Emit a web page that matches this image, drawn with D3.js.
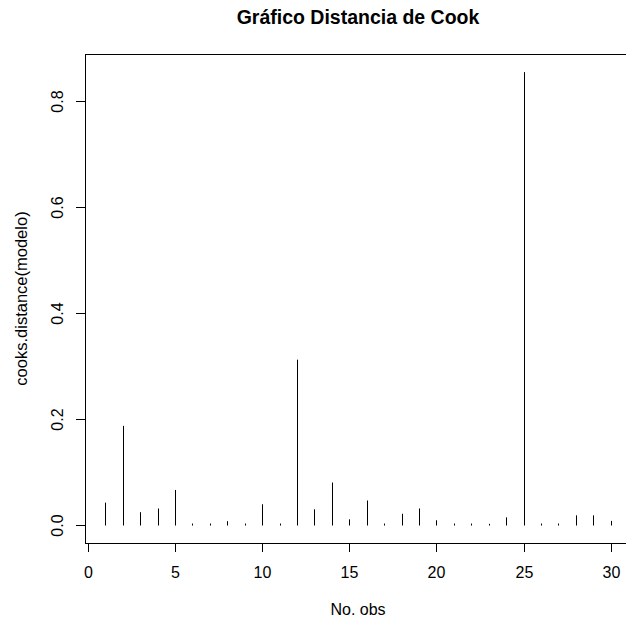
<!DOCTYPE html>
<html>
<head>
<meta charset="utf-8">
<script src="https://cdn.jsdelivr.net/npm/d3@7"></script>
<style>
  body { margin: 0; background: #fff; }
  text { font-family: "Liberation Sans", Arial, sans-serif; fill: #000; }
</style>
</head>
<body>
<div id="chart"></div>
<script>
// observation number and cook's distance
var obs = [1,2,3,4,5,6,7,8,9,10,11,12,13,14,15,16,17,18,19,20,21,22,23,24,25,26,27,28,29,30];
var cooks = [0.042,0.187,0.024,0.031,0.066,0.0025,0.0025,0.007,0.0025,0.039,0.0025,0.312,0.0295,0.080,0.0105,0.046,0.0025,0.021,0.031,0.0087,0.0025,0.0025,0.002,0.0143,0.855,0.0025,0.0025,0.018,0.018,0.0075];
var xTicks = [0,5,10,15,20,25,30];
var yTicks = [0,0.2,0.4,0.6,0.8];

// plot region (window.top is reserved, so use other names)
var width = 626,
    height = 622,
    plotLeft = 85,
    plotRight = 631,
    plotTop = 54,
    plotBottom = 543;

var svg = d3.select("#chart")
  .append("svg")
    .attr("width", width)
    .attr("height", height);

// R style 4% padding on the ranges
var xmin = d3.min(obs), xmax = d3.max(obs);
var xpad = (xmax - xmin) * 0.04;
var ymax = d3.max(cooks);
var ypad = ymax * 0.04;

var x = d3.scaleLinear()
  .domain([xmin - xpad, xmax + xpad])
  .range([plotLeft, plotRight]);

var y = d3.scaleLinear()
  .domain([0 - ypad, ymax + ypad])
  .range([plotBottom, plotTop]);

// plot box
svg.append("rect")
  .attr("x", plotLeft + 0.5)
  .attr("y", plotTop + 0.5)
  .attr("width", plotRight - plotLeft)
  .attr("height", plotBottom - plotTop)
  .attr("fill", "none")
  .attr("stroke", "#000")
  .attr("stroke-width", 1);

// vertical lines (type = "h")
svg.selectAll("line.h")
  .data(obs)
  .enter()
  .append("line")
  .attr("class", "h")
  .attr("x1", function(d){ return Math.round(x(d)) + 0.5; })
  .attr("x2", function(d){ return Math.round(x(d)) + 0.5; })
  .attr("y1", Math.round(y(0)) + 0.5)
  .attr("y2", function(d, i){ return y(cooks[i]); })
  .attr("stroke", "#000")
  .attr("stroke-width", 1);

// x axis
var xAxis = d3.axisBottom(x)
  .tickValues(xTicks)
  .tickSize(9);

var gx = svg.append("g")
  .attr("transform", "translate(0," + plotBottom + ")")
  .call(xAxis);
gx.select(".domain").remove();
gx.append("line")
  .attr("x1", Math.round(x(0)) + 0.5)
  .attr("x2", Math.round(x(30)) + 0.5)
  .attr("y1", 0.5)
  .attr("y2", 0.5)
  .attr("stroke", "#000");
gx.selectAll(".tick")
  .attr("transform", function(d){ return "translate(" + Math.round(x(d)) + ",0)"; });
gx.selectAll(".tick line").attr("x1", 0.5).attr("x2", 0.5).attr("y1", 0.5);
gx.selectAll("text")
  .style("font-size", "16px")
  .attr("x", 0.5)
  .attr("y", 35)
  .attr("dy", null);

// y axis
var yAxis = d3.axisLeft(y)
  .tickValues(yTicks)
  .tickFormat(d3.format(".1f"))
  .tickSize(9);

var gy = svg.append("g")
  .attr("transform", "translate(" + plotLeft + ",0)")
  .call(yAxis);
gy.select(".domain").remove();
gy.append("line")
  .attr("x1", 0.5)
  .attr("x2", 0.5)
  .attr("y1", Math.round(y(0)) + 0.5)
  .attr("y2", Math.round(y(0.8)) + 0.5)
  .attr("stroke", "#000");
gy.selectAll(".tick")
  .attr("transform", function(d){ return "translate(0," + Math.round(y(d)) + ")"; });
gy.selectAll(".tick line").attr("y1", 0.5).attr("y2", 0.5).attr("x2", -9).attr("x1", 0.5);
gy.selectAll("text")
  .style("font-size", "16px")
  .attr("text-anchor", "middle")
  .attr("x", null)
  .attr("dy", null)
  .attr("transform", "translate(-22,0.5) rotate(-90)")
  .attr("y", 0);

// labels
svg.append("text")
  .attr("x", (plotLeft + plotRight) / 2)
  .attr("y", 24)
  .attr("text-anchor", "middle")
  .style("font-size", "19.5px")
  .style("font-weight", "bold")
  .text("Gráfico Distancia de Cook");

svg.append("text")
  .attr("x", (plotLeft + plotRight) / 2)
  .attr("y", 615)
  .attr("text-anchor", "middle")
  .style("font-size", "16px")
  .text("No. obs");

svg.append("text")
  .attr("transform", "translate(27," + (plotTop + plotBottom) / 2 + ") rotate(-90)")
  .attr("text-anchor", "middle")
  .style("font-size", "16.5px")
  .text("cooks.distance(modelo)");
</script>
</body>
</html>
